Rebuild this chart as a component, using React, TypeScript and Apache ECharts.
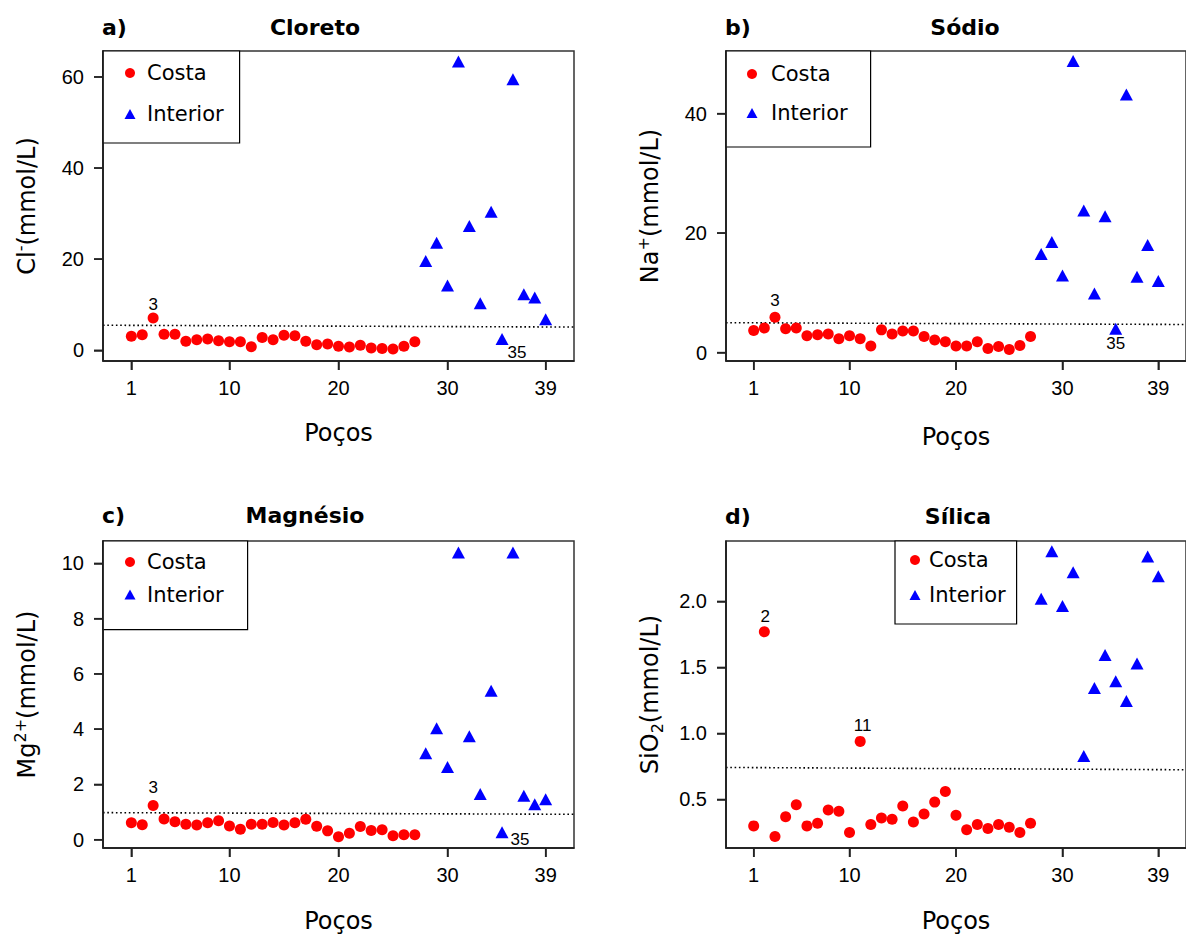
import React, { useEffect, useRef } from "react";
import * as echarts from "echarts";

// Well numbers (x positions)
const wells = [1, 2, 3, 4, 5, 6, 7, 8, 9, 10, 11, 12, 13, 14, 15, 16, 17, 18, 19, 20, 21, 22, 23, 24, 25, 26, 27, 28, 29, 30, 31, 32, 33, 34, 35, 36, 37, 38, 39];
const costaCount = 27; // wells 1-27 = Costa, 28-39 = Interior

const xTicks = [1, 10, 20, 30, 39];

// a) Cloreto  Cl- (mmol/L)
const cloreto = [3.1, 3.4, 7.1, 3.5, 3.5, 2.0, 2.3, 2.5, 2.1, 1.9, 1.9, 0.8, 2.8, 2.3, 3.3, 3.2, 2.0, 1.2, 1.4, 0.9, 0.7, 1.1, 0.5, 0.4, 0.3, 0.9, 1.9,
  19.6, 23.6, 14.2, 63.4, 27.3, 10.3, 30.4, 2.5, 59.5, 12.3, 11.6, 6.8];
const cloretoRef = [5.5, 5.1];
const cloretoTicks = [0, 20, 40, 60];

// b) Sódio  Na+ (mmol/L)
const sodio = [3.7, 4.1, 5.9, 4.0, 4.1, 2.8, 3.0, 3.1, 2.3, 2.8, 2.3, 1.1, 3.8, 3.1, 3.6, 3.6, 2.7, 2.1, 1.8, 1.1, 1.1, 1.8, 0.7, 1.0, 0.5, 1.2, 2.7,
  16.5, 18.5, 12.9, 48.8, 23.8, 9.9, 22.8, 4.0, 43.2, 12.7, 18.0, 12.0];
const sodioRef = [5.0, 4.7];
const sodioTicks = [0, 20, 40];

// c) Magnésio  Mg2+ (mmol/L)
const magnesio = [0.61, 0.54, 1.24, 0.75, 0.65, 0.56, 0.53, 0.61, 0.69, 0.50, 0.38, 0.56, 0.56, 0.62, 0.53, 0.61, 0.74, 0.49, 0.32, 0.11, 0.23, 0.48, 0.33, 0.36, 0.14, 0.18, 0.18,
  3.13, 4.03, 2.63, 10.39, 3.74, 1.65, 5.39, 0.27, 10.39, 1.59, 1.28, 1.46];
const magnesioRef = [0.98, 0.92];
const magnesioTicks = [0, 2, 4, 6, 8, 10];

// d) Sílica  SiO2 (mmol/L)
const silica = [0.30, 1.77, 0.22, 0.37, 0.46, 0.30, 0.32, 0.42, 0.41, 0.25, 0.94, 0.31, 0.36, 0.35, 0.45, 0.33, 0.39, 0.48, 0.56, 0.38, 0.27, 0.31, 0.28, 0.31, 0.29, 0.25, 0.32,
  2.02, 2.38, 1.965, 2.22, 0.83, 1.345, 1.595, 1.395, 1.245, 1.53, 2.34, 2.19];
const silicaRef = [0.7425, 0.725];
const silicaTicks = [0.5, 1.0, 1.5, 2.0];

const X_MIN = -1.6;
const X_MAX = 41.6;
const SANS = "DejaVu Sans";
const ARIAL = "Liberation Sans";
const AXIS_COLOR = "#222";
const TICK_LEN = 9;

type Panel = {
  tag: string; title: string; yName: string; values: number[]; ref: number[]; ticks: number[];
  yMin: number; yMax: number; decimals: number;
  left: number; top: number; titleCx: number; titleY: number; xNameGap: number;
  labels: { well: number; offset: number[] }[];
  legend: { left: number; top: number; padding: number[]; textPad: number; itemGap: number };
};

const panels: Panel[] = [
  {
    tag: "a)", title: "Cloreto", yName: "Cl{sup|-}(mmol/L)", values: cloreto, ref: cloretoRef, ticks: cloretoTicks,
    yMin: -2.35, yMax: 65.7, decimals: 0, left: 103, top: 51, titleCx: 315, titleY: 16, xNameGap: 58,
    labels: [{ well: 3, offset: [0, -13.5] }, { well: 35, offset: [15, 14] }],
    legend: { left: 103, top: 51, padding: [10, 16, 17, 21.5], textPad: 6.5, itemGap: 17 },
  },
  {
    tag: "b)", title: "Sódio", yName: "Na{sup|+}(mmol/L)", values: sodio, ref: sodioRef, ticks: sodioTicks,
    yMin: -1.41, yMax: 50.48, decimals: 0, left: 726, top: 51, titleCx: 965, titleY: 16, xNameGap: 62,
    labels: [{ well: 3, offset: [0, -16.5] }, { well: 35, offset: [0, 15] }],
    legend: { left: 726, top: 51, padding: [11, 23, 22, 20.5], textPad: 8.5, itemGap: 15 },
  },
  {
    tag: "c)", title: "Magnésio", yName: "Mg{sup|2+}(mmol/L)", values: magnesio, ref: magnesioRef, ticks: magnesioTicks,
    yMin: -0.3, yMax: 10.81, decimals: 0, left: 103, top: 541, titleCx: 305, titleY: 504, xNameGap: 59,
    labels: [{ well: 3, offset: [0, -17.5] }, { well: 35, offset: [18, 7] }],
    legend: { left: 103, top: 541, padding: [9, 24, 23, 21.5], textPad: 6.5, itemGap: 8.6 },
  },
  {
    tag: "d)", title: "Sílica", yName: "SiO{sub|2}(mmol/L)", values: silica, ref: silicaRef, ticks: silicaTicks,
    yMin: 0.1325, yMax: 2.4575, decimals: 1, left: 726, top: 541, titleCx: 958, titleY: 505, xNameGap: 59,
    labels: [{ well: 2, offset: [1, -15] }, { well: 11, offset: [2.5, -16] }],
    legend: { left: 895, top: 541, padding: [7, 11, 17, 14.5], textPad: 3.5, itemGap: 11 },
  },
];

function buildOption() {
  const grid: any[] = [];
  const xAxis: any[] = [];
  const yAxis: any[] = [];
  const series: any[] = [];
  const title: any[] = [];
  const legend: any[] = [];

  panels.forEach((p, i) => {
    const nameStyle = {
      fontFamily: SANS, fontSize: 24, color: "#000", lineHeight: 30,
      rich: {
        sup: { fontFamily: SANS, fontSize: 16, color: "#000", lineHeight: 16, verticalAlign: "top" },
        sub: { fontFamily: SANS, fontSize: 16, color: "#000", lineHeight: 16, verticalAlign: "bottom" },
      },
    };
    grid.push({
      left: p.left, top: p.top, width: 471, height: 310,
      show: true, borderColor: "#333", borderWidth: 1.5, backgroundColor: "transparent",
    });
    xAxis.push({
      type: "value", gridIndex: i, min: X_MIN, max: X_MAX,
      name: "Poços", nameLocation: "middle", nameGap: p.xNameGap,
      nameTextStyle: { fontFamily: SANS, fontSize: 24, color: "#000", lineHeight: 28 },
      axisLine: { show: true, onZero: false, lineStyle: { color: AXIS_COLOR, width: 1.5 } },
      splitLine: { show: false },
      axisTick: { show: true, length: TICK_LEN, customValues: xTicks, lineStyle: { color: AXIS_COLOR, width: 1.5 } },
      axisLabel: { customValues: xTicks, margin: 17, fontFamily: ARIAL, fontSize: 20, color: "#000" },
    });
    yAxis.push({
      type: "value", gridIndex: i, min: p.yMin, max: p.yMax,
      name: p.yName, nameLocation: "middle", nameGap: 61,
      nameTextStyle: nameStyle,
      axisLine: { show: true, onZero: false, lineStyle: { color: AXIS_COLOR, width: 1.5 } },
      splitLine: { show: false },
      axisTick: { show: true, length: TICK_LEN, customValues: p.ticks, lineStyle: { color: AXIS_COLOR, width: 1.5 } },
      axisLabel: {
        customValues: p.ticks, margin: 19, fontFamily: ARIAL, fontSize: 20, color: "#000",
        formatter: (v: number) => v.toFixed(p.decimals),
      },
    });

    const mk = (from: number, to: number) =>
      wells.slice(from, to).map((w, k) => {
        const lab = p.labels.find((l) => l.well === w);
        const item: any = { value: [w, p.values[from + k]] };
        if (lab) {
          item.label = {
            show: true, formatter: String(w), position: "inside", offset: lab.offset,
            color: "#000", fontFamily: ARIAL, fontSize: 17,
          };
        }
        return item;
      });

    series.push({
      type: "line", xAxisIndex: i, yAxisIndex: i, name: "ref", silent: true,
      data: [[X_MIN, p.ref[0]], [X_MAX, p.ref[1]]], showSymbol: false, symbol: "none",
      lineStyle: { color: "#000", width: 1.6, type: [1.6, 2.7] }, z: 1,
    });
    series.push({
      type: "scatter", name: "Costa", xAxisIndex: i, yAxisIndex: i, symbol: "circle", symbolSize: 11,
      itemStyle: { color: "#FF0000", opacity: 1 }, data: mk(0, costaCount), z: 3,
    });
    series.push({
      type: "scatter", name: "Interior", xAxisIndex: i, yAxisIndex: i, symbol: "triangle", symbolSize: [13, 12],
      itemStyle: { color: "#0000FF", opacity: 1 }, data: mk(costaCount, wells.length), z: 3,
    });

    title.push({
      text: p.tag, left: p.left - 1, top: p.titleY, padding: 0,
      textStyle: { fontFamily: SANS, fontSize: 22, fontWeight: "bold", color: "#000", lineHeight: 22 },
    });
    title.push({
      text: p.title, left: p.titleCx, top: p.titleY, padding: 0, textAlign: "center",
      textStyle: { fontFamily: SANS, fontSize: 22, fontWeight: "bold", color: "#000", lineHeight: 22 },
    });

    legend.push({
      orient: "vertical", left: p.legend.left, top: p.legend.top, padding: p.legend.padding,
      itemWidth: 11, itemHeight: 10, itemGap: p.legend.itemGap,
      borderColor: "#000", borderWidth: 1.2, backgroundColor: "#fff",
      textStyle: {
        fontFamily: SANS, fontSize: 21, color: "#000", lineHeight: 24,
        padding: [0, 0, 0, p.legend.textPad],
      },
      data: [{ name: "Costa", icon: "circle" }, { name: "Interior", icon: "triangle" }],
    });
  });

  return { animation: false, backgroundColor: "#fff", grid, xAxis, yAxis, series, title, legend };
}

// Axis frame and tick marks placed through the chart's own scales (convertToPixel)
function buildAxisGraphics(chart: echarts.ECharts) {
  const els: any[] = [];
  const shape = (x1: number, y1: number, x2: number, y2: number) => ({
    type: "line", z: 100, silent: true,
    shape: { x1, y1, x2, y2 },
    style: { stroke: AXIS_COLOR, lineWidth: 1.5 },
  });
  panels.forEach((p, i) => {
    const px = (x: number, y: number) => chart.convertToPixel({ gridIndex: i } as any, [x, y]) as number[];
    const bl = px(X_MIN, p.yMin);
    const tl = px(X_MIN, p.yMax);
    const br = px(X_MAX, p.yMin);
    els.push(shape(bl[0], bl[1], tl[0], tl[1]));
    els.push(shape(bl[0], bl[1], br[0], br[1]));
    xTicks.forEach((t) => {
      const q = px(t, p.yMin);
      els.push(shape(q[0], q[1], q[0], q[1] + TICK_LEN));
    });
    p.ticks.forEach((t) => {
      const q = px(X_MIN, t);
      els.push(shape(q[0] - TICK_LEN, q[1], q[0], q[1]));
    });
  });
  return els;
}

export default function App() {
  const ref = useRef<HTMLDivElement>(null);
  useEffect(() => {
    if (!ref.current) return;
    const chart = echarts.init(ref.current, undefined, { renderer: "svg" });
    chart.setOption(buildOption() as any);
    chart.setOption({ graphic: buildAxisGraphics(chart) } as any);
    return () => chart.dispose();
  }, []);
  return (
    <div
      ref={ref}
      style={{ position: "absolute", left: 0, top: 0, width: 1186, height: 936, background: "#fff" }}
    />
  );
}
